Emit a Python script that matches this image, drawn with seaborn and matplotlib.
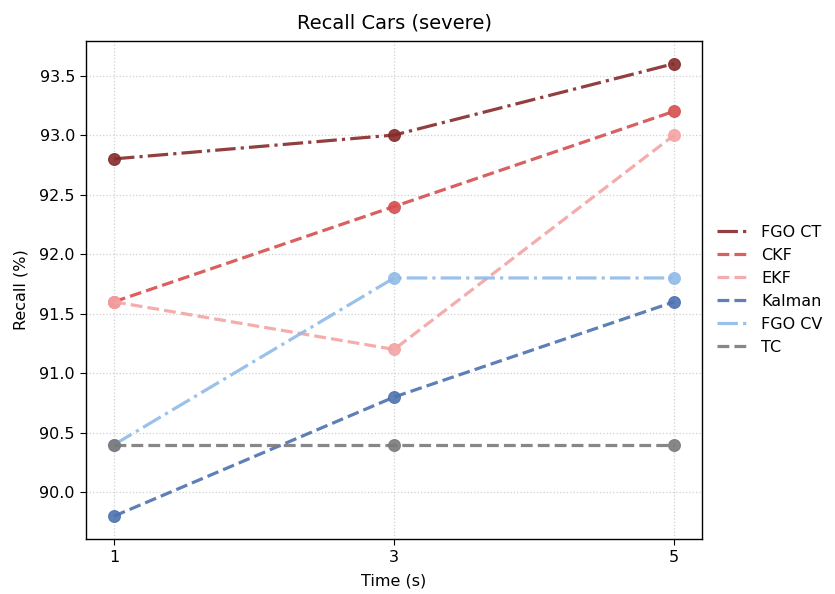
import matplotlib
matplotlib.use("Agg")
import matplotlib.pyplot as plt
import seaborn as sns
import pandas as pd

times = [1, 3, 5]
series_names = ["FGO CT", "CKF", "EKF", "Kalman", "FGO CV", "TC"]
fgo_ct = [92.8, 93.0, 93.6]
ckf = [91.6, 92.4, 93.2]
ekf = [91.6, 91.2, 93.0]
kalman = [89.8, 90.8, 91.6]
fgo_cv = [90.4, 91.8, 91.8]
tc = [90.4, 90.4, 90.4]
values = [fgo_ct, ckf, ekf, kalman, fgo_cv, tc]

colors = ["#862a2a", "#d64f4f", "#f4a3a3", "#4c72b0", "#8fbbe8", "#7a7a7a"]
styles = ["-.", "--", "--", "--", "-.", "--"]

plt.rcParams["xtick.labelsize"] = 11.5
plt.rcParams["ytick.labelsize"] = 11.5
plt.rcParams["axes.labelsize"] = 11.5
plt.rcParams["axes.linewidth"] = 1.0
plt.rcParams["xtick.major.size"] = 4.5
plt.rcParams["ytick.major.size"] = 4.5

fig, ax = plt.subplots(figsize=(8.35, 5.94), dpi=100)
fig.subplots_adjust(left=0.103, right=0.841, top=0.931, bottom=0.093)

for name, vals, c, ls in zip(series_names, values, colors, styles):
    df = pd.DataFrame({"Time": times, "Recall": vals})
    sns.lineplot(data=df, x="Time", y="Recall", ax=ax, color=c, linewidth=2.3,
                 linestyle=ls, marker="o", markersize=8.5, markeredgecolor=c,
                 markeredgewidth=0.8, alpha=0.9, label=name)

ax.set_xticks(times)
ax.set_xticklabels([str(t) for t in times])
ax.set_xlabel("Time (s)", labelpad=6)
ax.set_ylabel("Recall (%)", labelpad=7.5)
ax.set_title("Recall Cars (severe)", fontsize=14, pad=9)
ax.grid(True, linestyle=":", color="#d0d0d0", linewidth=0.9)
leg = ax.legend(loc="center left", bbox_to_anchor=(1.0, 0.5), frameon=False,
                fontsize=11.5)
for h in leg.legend_handles:
    h.set_marker("")

fig.savefig("out.png", dpi=100)
